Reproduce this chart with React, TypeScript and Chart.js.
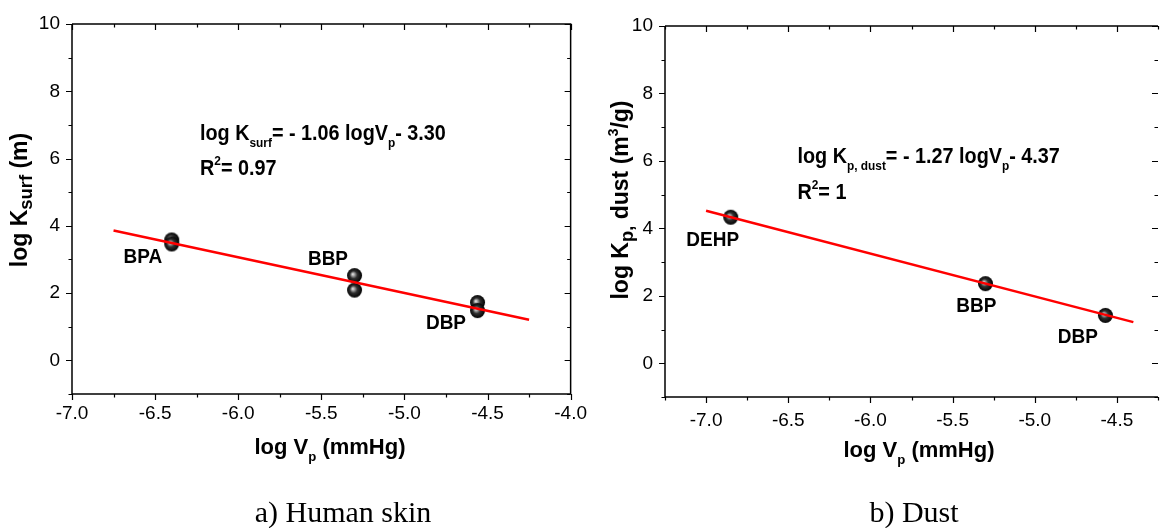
import React, { useEffect, useRef } from 'react';
import { Chart, registerables } from 'chart.js';

Chart.register(...registerables);

// ---------------- data ----------------
const skinCompounds = ['BPA', 'BPA', 'BBP', 'BBP', 'DBP', 'DBP'];
const skinLogVp = [-6.40, -6.40, -5.30, -5.30, -4.56, -4.56];
const skinLogKsurf = [3.58, 3.46, 2.52, 2.09, 1.72, 1.48];
const skinFitLogVp = [-6.75, -4.25];
const skinFitLogK = [3.86, 1.21];

const dustCompounds = ['DEHP', 'BBP', 'DBP'];
const dustLogVp = [-6.85, -5.30, -4.57];
const dustLogKp = [4.33, 2.36, 1.42];
const dustFitLogVp = [-7.0, -4.40];
const dustFitLogK = [4.52, 1.22];

const yTickLabels = ['0', '2', '4', '6', '8', '10'];
const skinXTickLabels = ['-7.0', '-6.5', '-6.0', '-5.5', '-5.0', '-4.5', '-4.0'];
const dustXTickLabels = ['-7.0', '-6.5', '-6.0', '-5.5', '-5.0', '-4.5'];

// ---------------- text helpers ----------------
const SANS = "'Liberation Sans', Arial, Helvetica, sans-serif";
const SERIF = "'Liberation Serif', 'Times New Roman', serif";

type Seg = { t: string; k?: number; dy?: number };

function drawRich(
  ctx: CanvasRenderingContext2D,
  segs: Seg[],
  x: number,
  y: number,
  size: number,
  opts: { bold?: boolean; family?: string; align?: 'left' | 'center'; sx?: number; rotate?: boolean }
) {
  const bold = opts.bold ?? true;
  const family = opts.family ?? SANS;
  const align = opts.align ?? 'left';
  const sx = opts.sx ?? 1;
  ctx.save();
  ctx.translate(x, y);
  if (opts.rotate) ctx.rotate(-Math.PI / 2);
  ctx.scale(sx, 1);
  ctx.textBaseline = 'alphabetic';
  ctx.textAlign = 'left';
  ctx.fillStyle = '#000';
  const fontOf = (k: number) => `${bold ? 'bold ' : ''}${size * k}px ${family}`;
  let total = 0;
  for (const s of segs) {
    ctx.font = fontOf(s.k ?? 1);
    total += ctx.measureText(s.t).width;
  }
  let cx = align === 'center' ? -total / 2 : 0;
  for (const s of segs) {
    ctx.font = fontOf(s.k ?? 1);
    ctx.fillText(s.t, cx, (s.dy ?? 0) * size);
    cx += ctx.measureText(s.t).width;
  }
  ctx.restore();
}

function makeSphere(r: number): HTMLCanvasElement {
  const c = document.createElement('canvas');
  const d = Math.ceil(r * 2 + 2);
  c.width = d;
  c.height = d;
  const g = c.getContext('2d')!;
  const cx = d / 2;
  const grad = g.createRadialGradient(cx - r * 0.25, cx - r * 0.2, 0, cx, cx, r);
  grad.addColorStop(0, '#f2f2f2');
  grad.addColorStop(0.22, '#a0a0a0');
  grad.addColorStop(0.5, '#303030');
  grad.addColorStop(1, '#000000');
  g.fillStyle = grad;
  g.beginPath();
  g.arc(cx, cx, r, 0, Math.PI * 2);
  g.fill();
  return c;
}

const isHalf = (v: number) => Math.abs(v * 2 - Math.round(v * 2)) < 1e-6;
const isEven = (v: number) => Math.abs(v / 2 - Math.round(v / 2)) < 1e-6;

// ---------------- panel config ----------------
type PointLabel = { text: string; x: number; y: number };
type PanelCfg = {
  left: number;
  width: number;
  xMin: number;
  xMax: number;
  padTop: number;
  padRight: number;
  yAxisWidth: number;
  xAxisHeight: number;
  xTickPad: number;
  rightBorder: boolean;
  xLabels: string[];
  px: number[];
  py: number[];
  fx: number[];
  fy: number[];
  pointLabels: PointLabel[];
  eq: Seg[];
  eqAt: { x: number; y: number };
  r2: Seg[];
  r2At: { x: number; y: number };
  xTitle: Seg[];
  xTitleAt: { x: number; y: number };
  yTitle: Seg[];
  yTitleAt: { x: number; y: number };
  caption: string;
  captionAt: { x: number; y: number };
};

const panels: PanelCfg[] = [
  {
    left: 0,
    width: 595,
    xMin: -7,
    xMax: -4,
    padTop: 24,
    padRight: 23,
    yAxisWidth: 72,
    xAxisHeight: 134,
    xTickPad: 8,
    rightBorder: true,
    xLabels: skinXTickLabels,
    px: skinLogVp,
    py: skinLogKsurf,
    fx: skinFitLogVp,
    fy: skinFitLogK,
    pointLabels: [
      { text: skinCompounds[0], x: -6.574, y: 2.89 },
      { text: skinCompounds[2], x: -5.46, y: 2.84 },
      { text: skinCompounds[4], x: -4.75, y: 0.93 },
    ],
    eq: [{ t: 'log K' }, { t: 'surf', k: 0.6, dy: 0.3 }, { t: '= - 1.06 logV' }, { t: 'p', k: 0.6, dy: 0.3 }, { t: '- 3.30' }],
    eqAt: { x: -6.23, y: 6.55 },
    r2: [{ t: 'R' }, { t: '2', k: 0.6, dy: -0.45 }, { t: '= 0.97' }],
    r2At: { x: -6.23, y: 5.51 },
    xTitle: [{ t: 'log V' }, { t: 'p', k: 0.6, dy: 0.3 }, { t: ' (mmHg)' }],
    xTitleAt: { x: 330, y: 454 },
    yTitle: [{ t: 'log K' }, { t: 'surf', k: 0.8, dy: 0.22 }, { t: ' (m)' }],
    yTitleAt: { x: 27, y: 200 },
    caption: 'a) Human skin',
    captionAt: { x: 343, y: 522 },
  },
  {
    left: 590,
    width: 580,
    xMin: -7.25,
    xMax: -4.25,
    padTop: 26,
    padRight: 5,
    yAxisWidth: 75,
    xAxisHeight: 131,
    xTickPad: 12,
    rightBorder: false,
    xLabels: dustXTickLabels,
    px: dustLogVp,
    py: dustLogKp,
    fx: dustFitLogVp,
    fy: dustFitLogK,
    pointLabels: [
      { text: dustCompounds[0], x: -6.96, y: 3.49 },
      { text: dustCompounds[1], x: -5.355, y: 1.53 },
      { text: dustCompounds[2], x: -4.738, y: 0.59 },
    ],
    eq: [{ t: 'log K' }, { t: 'p, dust', k: 0.6, dy: 0.3 }, { t: '= - 1.27 logV' }, { t: 'p', k: 0.6, dy: 0.3 }, { t: '- 4.37' }],
    eqAt: { x: -6.444, y: 5.93 },
    r2: [{ t: 'R' }, { t: '2', k: 0.6, dy: -0.45 }, { t: '= 1' }],
    r2At: { x: -6.444, y: 4.88 },
    xTitle: [{ t: 'log V' }, { t: 'p', k: 0.6, dy: 0.3 }, { t: ' (mmHg)' }],
    xTitleAt: { x: 919, y: 457 },
    yTitle: [{ t: 'log K' }, { t: 'p,', k: 0.8, dy: 0.22 }, { t: ' dust (m' }, { t: '3', k: 0.6, dy: -0.45 }, { t: '/g)' }],
    yTitleAt: { x: 628, y: 200 },
    caption: 'b) Dust',
    captionAt: { x: 914, y: 522 },
  },
];

function makePlugin(p: PanelCfg) {
  return {
    id: 'frameAndText',
    afterDraw(chart: any) {
      const { ctx, chartArea: a, scales } = chart;
      const xs = scales.x;
      const ys = scales.y;
      ctx.save();
      // frame
      ctx.strokeStyle = '#000';
      ctx.lineWidth = 1.5;
      ctx.beginPath();
      ctx.moveTo(a.left, a.top);
      ctx.lineTo(a.left, a.bottom);
      ctx.lineTo(a.right, a.bottom);
      ctx.moveTo(a.left, a.top);
      ctx.lineTo(a.right, a.top);
      if (p.rightBorder) {
        ctx.lineTo(a.right, a.bottom);
      }
      ctx.stroke();
      // ticks
      ctx.lineWidth = 1.2;
      ctx.beginPath();
      for (const t of xs.ticks) {
        const px = Math.round(xs.getPixelForValue(t.value)) + 0.5;
        const L = isHalf(t.value) ? 6 : 3.5;
        ctx.moveTo(px, a.bottom);
        ctx.lineTo(px, a.bottom + L);
        ctx.moveTo(px, a.top);
        ctx.lineTo(px, a.top + L);
      }
      for (const t of ys.ticks) {
        const py = Math.round(ys.getPixelForValue(t.value)) + 0.5;
        const L = isEven(t.value) ? 6 : 3.5;
        ctx.moveTo(a.left, py);
        ctx.lineTo(a.left - L, py);
        ctx.moveTo(a.right, py);
        ctx.lineTo(a.right - L, py);
      }
      ctx.stroke();
      ctx.restore();

      // point labels
      for (const l of p.pointLabels) {
        drawRich(ctx, [{ t: l.text }], xs.getPixelForValue(l.x), ys.getPixelForValue(l.y), 20, { align: 'center', sx: 0.95 });
      }
      // equation + R2
      drawRich(ctx, p.eq, xs.getPixelForValue(p.eqAt.x), ys.getPixelForValue(p.eqAt.y), 22, { sx: 0.9 });
      drawRich(ctx, p.r2, xs.getPixelForValue(p.r2At.x), ys.getPixelForValue(p.r2At.y), 22, { sx: 0.9 });
      // axis titles
      drawRich(ctx, p.xTitle, p.xTitleAt.x - p.left, p.xTitleAt.y, 22, { align: 'center' });
      drawRich(ctx, p.yTitle, p.yTitleAt.x - p.left, p.yTitleAt.y, 23, { align: 'center', rotate: true });
      // caption
      drawRich(ctx, [{ t: p.caption }], p.captionAt.x - p.left, p.captionAt.y, 30, { bold: false, family: SERIF, align: 'center' });
    },
  };
}

function Panel({ p }: { p: PanelCfg }) {
  const ref = useRef<HTMLCanvasElement>(null);
  useEffect(() => {
    const sphere = makeSphere(7.5);
    const chart = new Chart(ref.current!, {
      type: 'scatter',
      data: {
        datasets: [
          {
            type: 'line',
            data: p.fx.map((x, i) => ({ x, y: p.fy[i] })),
            borderColor: '#ff0000',
            borderWidth: 2.5,
            pointRadius: 0,
            fill: false,
          } as any,
          {
            data: p.px.map((x, i) => ({ x, y: p.py[i] })),
            pointStyle: sphere as any,
            pointRadius: 8,
            backgroundColor: '#000',
          },
        ],
      },
      plugins: [makePlugin(p)],
      options: {
        responsive: false,
        animation: false,
        events: [],
        layout: { padding: { top: p.padTop, right: p.padRight, left: 0, bottom: 0 } },
        plugins: { legend: { display: false }, tooltip: { enabled: false } },
        scales: {
          x: {
            type: 'linear',
            min: p.xMin,
            max: p.xMax,
            grid: { display: false, drawTicks: false },
            border: { display: false },
            afterFit: (s: any) => {
              s.height = p.xAxisHeight;
            },
            ticks: {
              stepSize: 0.25,
              autoSkip: false,
              maxRotation: 0,
              padding: p.xTickPad,
              color: '#000',
              font: { family: SANS, size: 19 },
              callback: (v: any) => {
                const n = Number(v);
                if (!isHalf(n)) return '';
                const s = n.toFixed(1);
                return p.xLabels.includes(s) ? s : '';
              },
            },
          },
          y: {
            type: 'linear',
            min: -1,
            max: 10,
            grid: { display: false, drawTicks: false },
            border: { display: false },
            afterFit: (s: any) => {
              s.width = p.yAxisWidth;
            },
            ticks: {
              stepSize: 1,
              autoSkip: false,
              padding: 12,
              color: '#000',
              font: { family: SANS, size: 19 },
              callback: (v: any) => {
                const s = String(Math.round(Number(v)));
                return yTickLabels.includes(s) && isEven(Number(v)) ? s : '';
              },
            },
          },
        },
      },
    });
    return () => chart.destroy();
  }, [p]);
  return (
    <canvas
      ref={ref}
      width={p.width}
      height={528}
      style={{ position: 'absolute', left: p.left, top: 0, width: p.width, height: 528 }}
    />
  );
}

export default function App() {
  return (
    <div
      style={{
        position: 'fixed',
        left: 0,
        top: 0,
        width: 1162,
        height: 528,
        overflow: 'hidden',
        background: '#fff',
      }}
    >
      {panels.map((p, i) => (
        <Panel key={i} p={p} />
      ))}
    </div>
  );
}
